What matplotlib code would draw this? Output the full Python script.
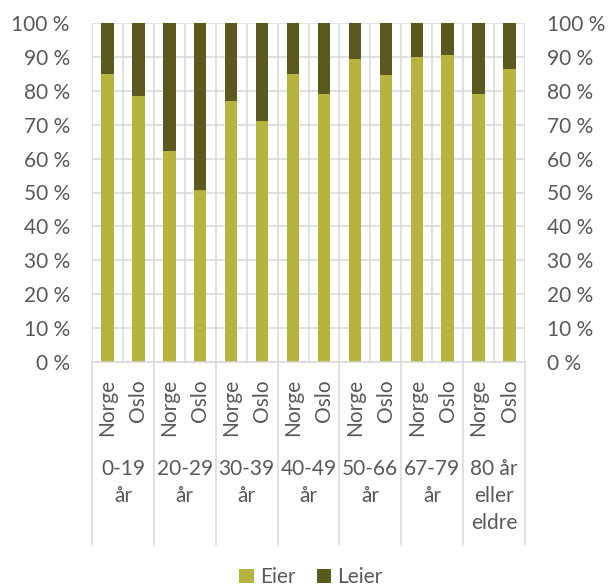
import matplotlib.pyplot as plt
import matplotlib.transforms as mtransforms
import numpy as np

# Share of owners (Eier) and renters (Leier), Norway vs Oslo, per age group
groups = ["0-19\når", "20-29\når", "30-39\når", "40-49\når", "50-66\når", "67-79\når", "80 år\neller\neldre"]
regions = ["Norge", "Oslo"]
eier_norge = [85.0, 62.2, 77.1, 85.1, 89.3, 90.0, 79.2]
eier_oslo = [78.6, 50.7, 71.1, 79.0, 84.6, 90.6, 86.4]
leier_norge = [15.0, 37.8, 22.9, 14.9, 10.7, 10.0, 20.8]
leier_oslo = [21.4, 49.3, 28.9, 21.0, 15.4, 9.4, 13.6]

EIER_COLOR = "#B6B43F"
LEIER_COLOR = "#5B5A1E"
TEXT_COLOR = "#595959"
GRID_COLOR = "#D9D9D9"

plt.rcParams["font.family"] = ["Lato", "DejaVu Sans"]

fig = plt.figure(figsize=(6.1, 5.88), dpi=100)
ax = fig.add_axes([92 / 610, 226 / 588, 433 / 610, 339 / 588])

# interleave Norge/Oslo bars per age group
eier = np.ravel(np.column_stack([eier_norge, eier_oslo]))
leier = np.ravel(np.column_stack([leier_norge, leier_oslo]))
x = np.arange(len(eier))

ax.bar(x, eier, width=0.4, color=EIER_COLOR, label="Eier", zorder=2)
ax.bar(x, leier, width=0.4, bottom=eier, color=LEIER_COLOR, label="Leier", zorder=2)

ax.set_xlim(-0.5, len(eier) - 0.5)
ax.set_ylim(0, 100)
ax.set_yticks(np.arange(0, 101, 10))
ax.set_yticklabels([f"{v} %" for v in range(0, 101, 10)])
ax.tick_params(axis="y", length=0, pad=16, labelsize=15, labelcolor=TEXT_COLOR,
               labelleft=True, labelright=True)

ax.set_xticks(x)
ax.set_xticklabels([])
ax.set_xticks(np.arange(-0.5, len(eier), 1.0), minor=True)
ax.tick_params(axis="x", which="both", length=0)

ax.set_axisbelow(True)
ax.grid(axis="y", color=GRID_COLOR, lw=1.1)
ax.grid(axis="x", which="minor", color=GRID_COLOR, lw=1.1)
for side in ["top", "right", "left"]:
    ax.spines[side].set_visible(False)
ax.spines["bottom"].set_color(GRID_COLOR)
ax.spines["bottom"].set_linewidth(1.1)

# two-level category axis
trans = mtransforms.blended_transform_factory(ax.transData, ax.transAxes)
for i, xi in enumerate(x):
    ax.text(xi, -0.05, regions[i % 2], transform=trans, rotation=90,
            ha="center", va="top", fontsize=15, color=TEXT_COLOR)
for g, label in enumerate(groups):
    ax.text(2 * g + 0.5, -0.285, label, transform=trans, ha="center", va="top",
            fontsize=15, color=TEXT_COLOR, linespacing=1.45)
for b in np.arange(-0.5, len(eier), 2.0):
    ax.plot([b, b], [0, -0.54], transform=trans, color=GRID_COLOR, lw=1.1, clip_on=False)

fig.legend(loc="center", bbox_to_anchor=(0.51, 0.018), ncol=2, frameon=False,
           fontsize=15, handlelength=0.7, handleheight=0.7, handletextpad=0.3,
           columnspacing=1.0, labelcolor=TEXT_COLOR)

fig.savefig("out.png", dpi=100)
